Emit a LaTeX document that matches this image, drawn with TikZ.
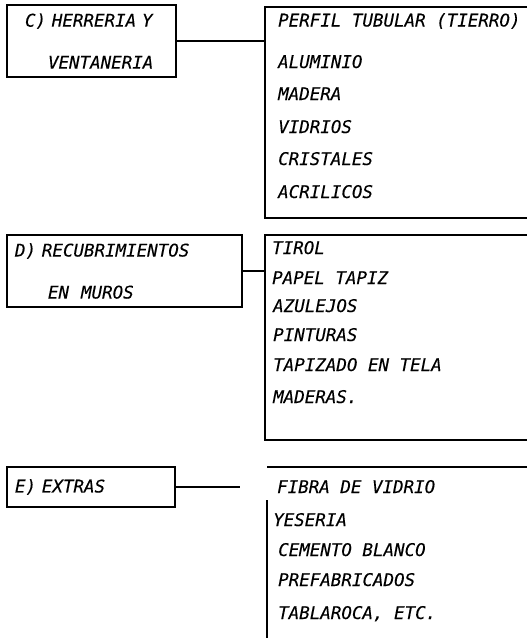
\documentclass[tikz,border=0pt]{standalone}
\usepackage{fontspec}
\setmonofont{DejaVu Sans Mono}[FakeBold=0.15]
\usepackage{tikz}

\begin{document}
\begin{tikzpicture}[
  x=1pt, y=-1pt,
  font=\ttfamily\itshape\fontsize{17.5}{42}\selectfont,
  catbox/.style={
    draw, line width=1.4pt, inner xsep=8pt, inner ysep=0pt,
    text width=#1, align=left
  },
  item/.style={anchor=base west, inner sep=0pt},
  bracket/.style={line width=1.4pt},
  link/.style={line width=1.4pt}
]
  \useasboundingbox (0,0) rectangle (527,638);

  % C) herreria y ventaneria
  \node[catbox=153pt, minimum height=72pt] (cbox) at (91.5,41)
    {\hspace*{10pt}C) HERRERIA Y\\\hspace*{33pt}VENTANERIA};
  \draw[bracket] (527,7) -- (265,7) -- (265,218) -- (527,218);
  \coordinate (cjoin) at (265,41);
  \draw[link] (cbox) -- (cjoin);
  \node[item] (c1) at (278,26.5) {PERFIL TUBULAR (TIERRO)};
  \node[item] (c2) at (278,68) {ALUMINIO};
  \node[item] (c3) at (278,100) {MADERA};
  \node[item] (c4) at (278,133) {VIDRIOS};
  \node[item] (c5) at (278,165) {CRISTALES};
  \node[item] (c6) at (278,198) {ACRILICOS};

  % D) recubrimientos en muros
  \node[catbox=219pt, minimum height=72pt] (dbox) at (124.5,271)
    {D) RECUBRIMIENTOS\\\hspace*{33pt}EN\hspace{12pt}MUROS};
  \draw[bracket] (527,235) -- (265,235) -- (265,440) -- (527,440);
  \coordinate (djoin) at (265,271);
  \draw[link] (dbox) -- (djoin);
  \node[item] (d1) at (272,254) {TIROL};
  \node[item] (d2) at (272,284) {PAPEL TAPIZ};
  \node[item] (d3) at (273,312) {AZULEJOS};
  \node[item] (d4) at (273,341) {PINTURAS};
  \node[item] (d5) at (273,371) {TAPIZADO EN TELA};
  \node[item] (d6) at (273,403) {MADERAS.};

  % E) extras
  \node[catbox=152pt, minimum height=40pt] (ebox) at (91,487)
    {E) EXTRAS};
  \draw[bracket] (527,467) -- (267,467);
  \draw[bracket] (267,500) -- (267,638);
  \coordinate (ejoin) at (240,487);
  \draw[link] (ebox) -- (ejoin);
  \node[item] (e1) at (277,493) {FIBRA DE VIDRIO};
  \node[item] (e2) at (273,526) {YESERIA};
  \node[item] (e3) at (278,556) {CEMENTO BLANCO};
  \node[item] (e4) at (278,586) {PREFABRICADOS};
  \node[item] (e5) at (278,619) {TABLAROCA, ETC.};
\end{tikzpicture}
\end{document}
